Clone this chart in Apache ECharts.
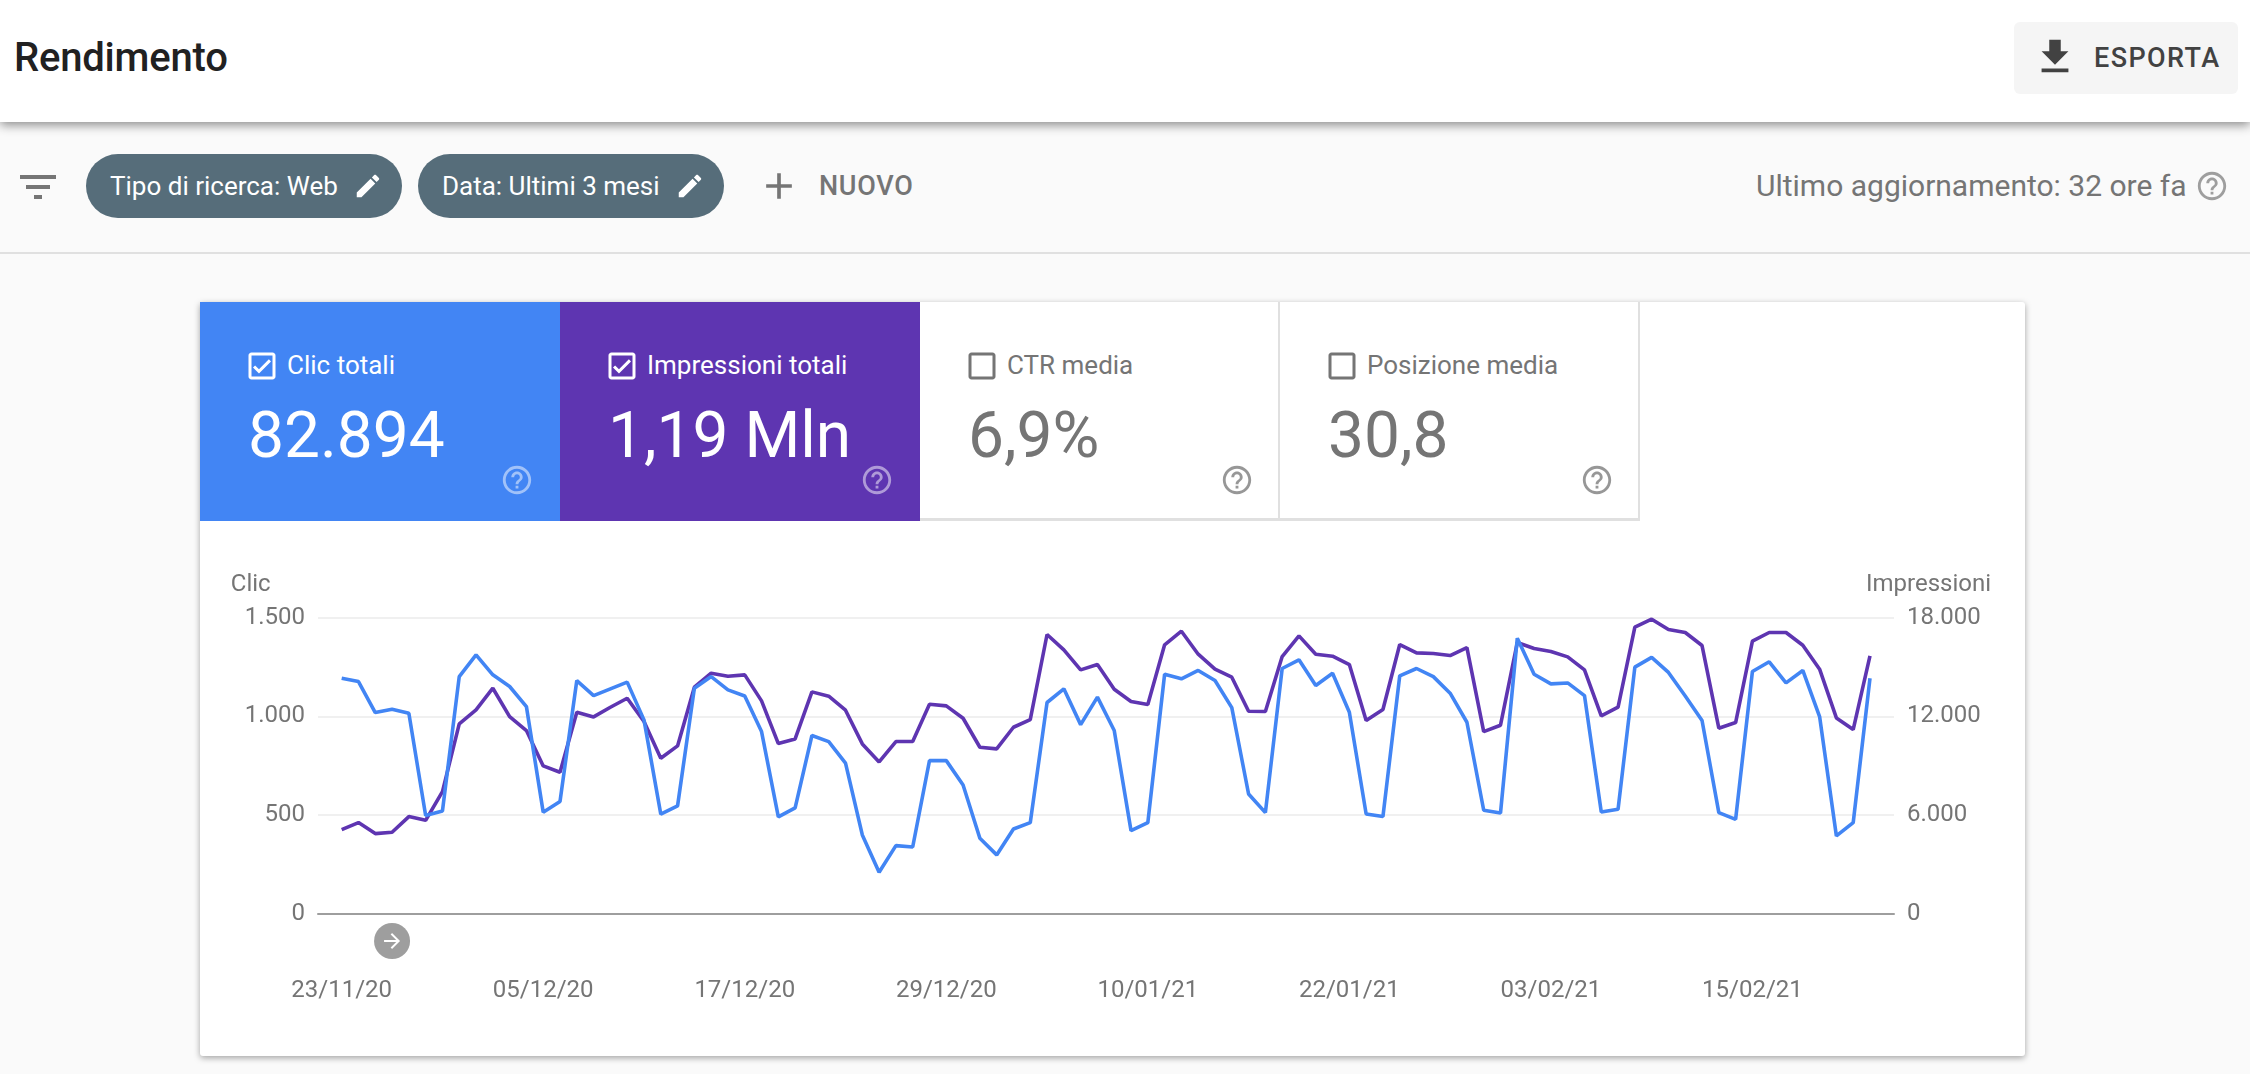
<!DOCTYPE html>
<html lang="it">

<head>
  <meta charset="utf-8">
  <style>
    html, body { margin: 0; height: 100%; background: #fafafa; overflow: hidden; font-family: Roboto, sans-serif; }
    .abs, .chip, .tile, .tile div, .tile svg { position: absolute; }
    #top { position: absolute; left: 0; top: 0; width: 2250px; height: 122px; background: #fff; box-shadow: 0 3px 10px rgba(0, 0, 0, .45); z-index: 2; }
    #rule { position: absolute; left: 0; top: 252px; width: 2250px; height: 2px; background: #e0e0e0; }
    #card { position: absolute; left: 200px; top: 302px; width: 1825px; height: 754px; background: #fff; border-radius: 3px; box-shadow: 0 2px 6px rgba(0, 0, 0, .35); }
    #container { position: absolute; left: 200px; top: 521px; width: 1825px; height: 535px; }
    .chip { top: 154px; height: 64px; border-radius: 32px; background: #566d7a; color: #fff; font-size: 26px; line-height: 64px; white-space: nowrap; }
    .chip span { position: absolute; left: 24px; }
    .chip svg { position: absolute; top: 17px; fill: #fff; }
    .tile { top: 302px; width: 360px; height: 219px; box-sizing: border-box; color: #757575; }
    .tile.off { border-right: 2px solid #e0e0e0; border-bottom: 3px solid #e0e0e0; }
    .tile.on { color: #fff; }
    .tile .lbl { left: 87px; top: 46px; font-size: 26px; line-height: 34px; white-space: nowrap; }
    .tile .val { left: 48px; top: 94px; font-size: 64px; line-height: 80px; white-space: nowrap; }
    .tile .box { left: 44px; top: 46px; }
    .tile .help { left: 300px; top: 161px; opacity: .75; }
    .tile.on .help { opacity: .5; }
  </style>
</head>

<body>
  <svg width="0" height="0" style="position:absolute">
    <symbol id="i-edit" viewBox="0 0 24 24"><path d="M3 17.25V21h3.75L17.81 9.94l-3.75-3.75L3 17.25zM20.71 7.04c.39-.39.39-1.02 0-1.41l-2.34-2.34c-.39-.39-1.02-.39-1.41 0l-1.83 1.83 3.75 3.75 1.83-1.83z"/></symbol>
    <symbol id="i-help" viewBox="0 0 24 24"><path d="M11 18h2v-2h-2v2zm1-16C6.48 2 2 6.48 2 12s4.48 10 10 10 10-4.48 10-10S17.52 2 12 2zm0 18c-4.41 0-8-3.59-8-8s3.59-8 8-8 8 3.59 8 8-3.59 8-8 8zm0-14c-2.21 0-4 1.79-4 4h2c0-1.1.9-2 2-2s2 .9 2 2c0 2-3 1.75-3 5h2c0-2.25 3-2.5 3-5 0-2.21-1.79-4-4-4z"/></symbol>
    <symbol id="i-on" viewBox="0 0 24 24"><path d="M19 3H5c-1.1 0-2 .9-2 2v14c0 1.1.9 2 2 2h14c1.1 0 2-.9 2-2V5c0-1.1-.9-2-2-2zm0 16H5V5h14v14zM17.99 9l-1.41-1.42-6.59 6.59-2.58-2.57-1.42 1.41 4 3.99z"/></symbol>
    <symbol id="i-off" viewBox="0 0 24 24"><path d="M19 5v14H5V5h14m0-2H5c-1.1 0-2 .9-2 2v14c0 1.1.9 2 2 2h14c1.1 0 2-.9 2-2V5c0-1.1-.9-2-2-2z"/></symbol>
  </svg>

  <div id="top">
    <div class="abs" style="left:14px;top:36px;font-size:40px;line-height:44px;font-weight:500;color:#212121;letter-spacing:-.2px">Rendimento</div>
    <div class="abs" style="left:2014px;top:22px;width:224px;height:72px;background:#f5f5f5;border-radius:6px"></div>
    <svg class="abs" style="left:2032px;top:34px;fill:#424242" width="46" height="46" viewBox="0 0 24 24"><path d="M19 9h-4V3H9v6H5l7 7 7-7zM5 18v2h14v-2H5z"/></svg>
    <div class="abs" style="left:2094px;top:42px;font-size:27px;line-height:32px;font-weight:500;color:#424242;letter-spacing:1.4px">ESPORTA</div>
  </div>

  <svg class="abs" style="left:14px;top:163px;fill:#757575" width="48" height="48" viewBox="0 0 24 24"><path d="M10 18h4v-2h-4v2zM3 6v2h18V6H3zm3 7h12v-2H6v2z"/></svg>
  <div class="chip" style="left:86px;width:316px"><span>Tipo di ricerca: Web</span><svg style="left:267px" width="30" height="30"><use href="#i-edit"/></svg></div>
  <div class="chip" style="left:418px;width:306px"><span>Data: Ultimi 3 mesi</span><svg style="left:257px" width="30" height="30"><use href="#i-edit"/></svg></div>
  <svg class="abs" style="left:757px;top:164px;fill:#757575" width="44" height="44" viewBox="0 0 24 24"><path d="M19 13h-6v6h-2v-6H5v-2h6V5h2v6h6v2z"/></svg>
  <div class="abs" style="left:819px;top:170px;font-size:27px;line-height:32px;font-weight:500;color:#757575;letter-spacing:.7px">NUOVO</div>
  <div class="abs" style="left:1756px;top:168px;font-size:30px;line-height:36px;color:#757575;white-space:nowrap">Ultimo aggiornamento: 32 ore fa</div>
  <svg class="abs" style="left:2195px;top:169px;fill:#9e9e9e" width="34" height="34"><use href="#i-help"/></svg>
  <div id="rule"></div>

  <div id="card"></div>
  <div class="tile on" style="left:200px;background:#4285f4">
    <svg class="box" style="fill:#fff" width="36" height="36"><use href="#i-on"/></svg>
    <div class="lbl">Clic totali</div><div class="val">82.894</div>
    <svg class="help" style="fill:#fff" width="34" height="34"><use href="#i-help"/></svg>
  </div>
  <div class="tile on" style="left:560px;background:#5e35b1">
    <svg class="box" style="fill:#fff" width="36" height="36"><use href="#i-on"/></svg>
    <div class="lbl">Impressioni totali</div><div class="val">1,19 Mln</div>
    <svg class="help" style="fill:#fff" width="34" height="34"><use href="#i-help"/></svg>
  </div>
  <div class="tile off" style="left:920px">
    <svg class="box" style="fill:#757575" width="36" height="36"><use href="#i-off"/></svg>
    <div class="lbl">CTR media</div><div class="val">6,9%</div>
    <svg class="help" style="fill:#757575" width="34" height="34"><use href="#i-help"/></svg>
  </div>
  <div class="tile off" style="left:1280px">
    <svg class="box" style="fill:#757575" width="36" height="36"><use href="#i-off"/></svg>
    <div class="lbl">Posizione media</div><div class="val">30,8</div>
    <svg class="help" style="fill:#757575" width="34" height="34"><use href="#i-help"/></svg>
  </div>

  <div id="container"></div>

  <script src="https://cdn.jsdelivr.net/npm/echarts@6/dist/echarts.min.js"></script>
  <script type="text/javascript">
    // one value per day, 23/11/20 - 22/02/21
    var clic = [
      1193, 1176, 1019, 1036, 1016, 498, 521, 1201, 1311, 1210, 1151, 1049, 515, 569, 1181, 1105,
      1139, 1173, 982, 505, 547, 1142, 1201, 1134, 1103, 923, 491, 537, 903, 872, 763, 400,
      211, 346, 339, 776, 776, 653, 383, 299, 430, 462, 1070, 1139, 958, 1097, 928, 422,
      462, 1213, 1190, 1232, 1181, 1044, 607, 513, 1242, 1286, 1156, 1218, 1021, 506, 493, 1205,
      1242, 1201, 1117, 970, 525, 511, 1395, 1213, 1164, 1169, 1105, 516, 530, 1249, 1298, 1222,
      1103, 979, 513, 479, 1227, 1276, 1169, 1232, 999, 395, 462, 1193
    ];
    var impressioni = [
      5123, 5548, 4880, 4961, 5912, 5689, 7431, 11541, 12391, 13707, 11986, 11136, 8990, 8605, 12249, 11966,
      12553, 13100, 11683, 9455, 10204, 13768, 14618, 14436, 14517, 12938, 10346, 10630, 13485, 13221, 12371, 10326,
      9233, 10468, 10468, 12735, 12634, 11885, 10124, 10022, 11338, 11804, 16967, 16036, 14821, 15145, 13646, 12897,
      12715, 16339, 17169, 15772, 14861, 14375, 12310, 12290, 15631, 16886, 15772, 15651, 15145, 11743, 12411, 16360,
      15853, 15813, 15691, 16177, 11075, 11460, 16481, 16117, 15934, 15610, 14821, 12027, 12553, 17412, 17898, 17271,
      17088, 16299, 11278, 11622, 16562, 17088, 17088, 16319, 14861, 11905, 11197, 15671
    ];
    var dateLabels = ['23/11/20', '05/12/20', '17/12/20', '29/12/20', '10/01/21', '22/01/21', '03/02/21', '15/02/21'];
    var dateTicks = [0, 12, 24, 36, 48, 60, 72, 84];
    var annotationDay = 3;

    var BLUE = '#4285f4';
    var PURPLE = '#5e35b1';
    var GREY = '#757575';

    function dotted(v) {
      return String(v).replace(/\B(?=(\d{3})+$)/g, '.');
    }
    function pairs(values) {
      return values.map(function (v, i) { return [i, v]; });
    }

    var myChart = echarts.init(document.getElementById('container'), null, { renderer: 'canvas' });

    var option = {
      animation: false,
      grid: { left: 118, top: 96.5, width: 1576, height: 296.5 },
      xAxis: {
        type: 'value',
        min: -1.41,
        max: 92.43,
        splitLine: { show: false },
        axisTick: { show: false },
        axisLine: { show: true, lineStyle: { color: '#9e9e9e', width: 2 } },
        axisLabel: {
          customValues: dateTicks,
          formatter: function (v) { return dateLabels[dateTicks.indexOf(v)]; },
          color: GREY,
          fontFamily: 'Roboto',
          fontSize: 24,
          margin: 65
        }
      },
      yAxis: [
        {
          type: 'value',
          name: 'Clic',
          nameGap: 21,
          nameTextStyle: { color: GREY, fontFamily: 'Roboto', fontSize: 24, align: 'right', padding: [0, 71, 0, 0] },
          min: 0,
          max: 1500,
          interval: 500,
          axisLine: { show: false },
          axisTick: { show: false },
          splitLine: { lineStyle: { color: '#f0f0f0', width: 2 } },
          axisLabel: { formatter: dotted, color: GREY, fontFamily: 'Roboto', fontSize: 24, margin: 13 }
        },
        {
          type: 'value',
          name: 'Impressioni',
          nameGap: 21,
          nameTextStyle: { color: GREY, fontFamily: 'Roboto', fontSize: 24, align: 'center', padding: [0, 0, 0, 69] },
          min: 0,
          max: 18000,
          interval: 6000,
          axisLine: { show: false },
          axisTick: { show: false },
          splitLine: { show: false },
          axisLabel: { formatter: dotted, color: GREY, fontFamily: 'Roboto', fontSize: 24, margin: 13 }
        }
      ],
      series: [
        {
          name: 'Impressioni',
          type: 'line',
          yAxisIndex: 1,
          data: pairs(impressioni),
          showSymbol: false,
          lineStyle: { color: PURPLE, width: 3.6 },
          itemStyle: { color: PURPLE }
        },
        {
          name: 'Clic',
          type: 'line',
          data: pairs(clic),
          showSymbol: false,
          lineStyle: { color: BLUE, width: 3.6 },
          itemStyle: { color: BLUE },
          markPoint: {
            silent: true,
            label: { show: false },
            data: [
              { coord: [annotationDay, 0], symbol: 'circle', symbolSize: 36, symbolOffset: [0, 27], itemStyle: { color: '#9e9e9e' } },
              { coord: [annotationDay, 0], symbol: 'path://M12 4l-1.41 1.41L16.17 11H4v2h12.17l-5.58 5.59L12 20l8-8z', symbolSize: 16, symbolOffset: [0, 27], itemStyle: { color: '#fff' } }
            ]
          }
        }
      ]
    };
    myChart.setOption(option);

    window.addEventListener('resize', myChart.resize);
  </script>
</body>

</html>
